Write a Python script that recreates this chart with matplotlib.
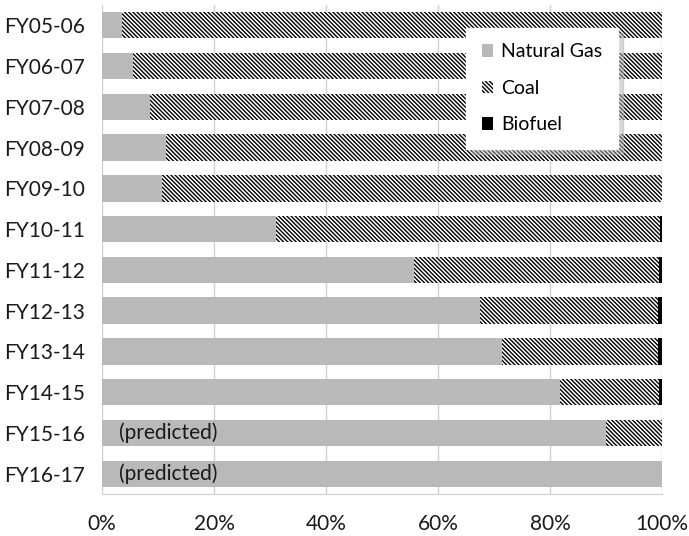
import numpy as np
import matplotlib.pyplot as plt

plt.rcParams['font.family'] = ['Lato', 'DejaVu Sans']
plt.rcParams['hatch.linewidth'] = 1.0

years = ['FY05-06', 'FY06-07', 'FY07-08', 'FY08-09', 'FY09-10', 'FY10-11',
         'FY11-12', 'FY12-13', 'FY13-14', 'FY14-15', 'FY15-16', 'FY16-17']
natural_gas = [3.6, 5.5, 8.6, 11.5, 10.7, 31.0, 55.7, 67.5, 71.4, 81.8, 90.0, 100.0]
biofuel = [0.0, 0.0, 0.0, 0.0, 0.0, 0.3, 0.5, 0.8, 0.8, 0.6, 0.0, 0.0]
coal = [100 - g - b for g, b in zip(natural_gas, biofuel)]
predicted = ['FY15-16', 'FY16-17']

fig = plt.figure(figsize=(6.89, 5.36), dpi=100)
ax = fig.add_axes([0.148, 0.078, 0.813, 0.913])

y = np.arange(len(years))
h = 0.65
gas = np.array(natural_gas)
cl = np.array(coal)
bf = np.array(biofuel)

ax.barh(y, gas, height=h, color='#b9b9b9', lw=0, label='Natural Gas', zorder=2)
ax.barh(y, cl, left=gas, height=h, color='white', edgecolor='black', hatch='\\' * 8,
        lw=0, label='Coal', zorder=2)
ax.barh(y, bf, left=gas + cl, height=h, color='black', lw=0, label='Biofuel', zorder=2)

for i, yr in enumerate(years):
    if yr in predicted:
        ax.text(3, i, '(predicted)', va='center', ha='left', fontsize=15, color='#1a1a1a', zorder=3)

ax.set_xlim(0, 100)
ax.set_ylim(len(years) - 0.5, -0.5)
ax.set_yticks(y)
ax.set_yticklabels(years)
ax.set_xticks(np.arange(0, 101, 20))
ax.set_xticklabels([f'{v}%' for v in range(0, 101, 20)])
ax.tick_params(length=0, labelsize=15, colors='#1a1a1a')
ax.tick_params(axis='y', pad=12)
ax.tick_params(axis='x', pad=14)
ax.grid(axis='x', color='#d0d0d0', lw=1, zorder=0)
for s in ['top', 'right', 'left']:
    ax.spines[s].set_visible(False)
ax.spines['bottom'].set_color('#d0d0d0')

leg = ax.legend(loc='upper left', bbox_to_anchor=(0.65, 0.953), borderaxespad=0,
                fontsize=14, handlelength=0.6, handleheight=0.6, labelspacing=1.0,
                borderpad=0.8, handletextpad=0.4, fancybox=False, framealpha=1,
                edgecolor='white',
                shadow={'color': '0.7', 'ox': 4, 'oy': -4, 'alpha': 0.5})

fig.savefig('out.png', dpi=100)
